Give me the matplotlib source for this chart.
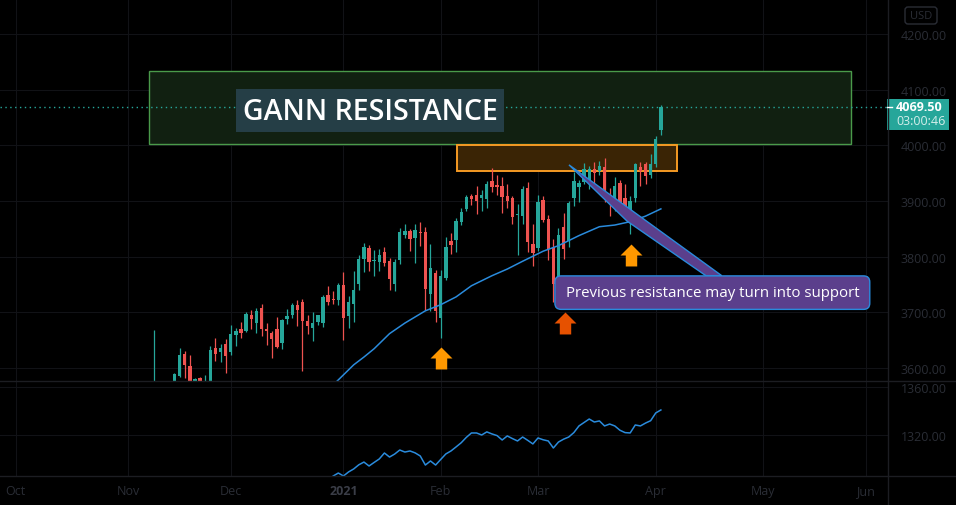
import numpy as np
import pandas as pd
import matplotlib
matplotlib.use('Agg')
import matplotlib.pyplot as plt
from matplotlib.patches import Rectangle, FancyBboxPatch, Polygon
from matplotlib.path import Path
from matplotlib.lines import Line2D
from matplotlib.transforms import IdentityTransform

# ES1! daily, first visible bar 2020-11-09 .. 2021-04-05
holidays = ['2020-11-26', '2020-12-25', '2021-01-01', '2021-01-18',
            '2021-02-15', '2021-04-02', '2021-05-31']
first_bar = '2020-11-09'

opens = [3530, 3548, 3540, 3562, 3545, 3586, 3626, 3604, 3560, 3582,
         3540, 3565, 3636, 3629, 3643, 3629, 3660, 3671, 3667, 3696,
         3681, 3708, 3671, 3663, 3671, 3645, 3688, 3696, 3714, 3719,
         3685, 3672, 3683, 3681, 3732, 3724, 3722, 3750, 3694, 3715,
         3751, 3796, 3816, 3792, 3791, 3809, 3793, 3751, 3794, 3839,
         3846, 3834, 3845, 3845, 3733, 3771, 3690, 3762, 3829, 3830,
         3863, 3886, 3909, 3911, 3905, 3904, 3936, 3929, 3927, 3909,
         3906, 3875, 3873, 3924, 3823, 3816, 3902, 3868, 3818, 3760,
         3854, 3828, 3906, 3925, 3934, 3933, 3957, 3954, 3961, 3911,
         3891, 3933, 3906, 3882, 3906, 3961, 3966, 3947, 3966, 4027]
highs = [3668, 3565, 3572, 3570, 3591, 3637, 3631, 3624, 3583, 3584,
         3588, 3640, 3654, 3643, 3652, 3678, 3672, 3683, 3701, 3705,
         3708, 3715, 3681, 3667, 3692, 3688, 3706, 3717, 3723, 3724,
         3696, 3701, 3696, 3732, 3748, 3739, 3753, 3773, 3730, 3775,
         3803, 3825, 3821, 3812, 3814, 3818, 3798, 3796, 3852, 3859,
         3850, 3859, 3863, 3854, 3823, 3776, 3776, 3836, 3843, 3870,
         3888, 3911, 3913, 3927, 3920, 3936, 3959, 3947, 3943, 3931,
         3909, 3895, 3927, 3934, 3859, 3911, 3909, 3875, 3832, 3852,
         3879, 3900, 3952, 3938, 3968, 3963, 3970, 3972, 3977, 3923,
         3943, 3938, 3931, 3909, 3968, 3970, 3970, 3984, 4016, 4073]
lows = [3510, 3520, 3525, 3505, 3540, 3584, 3583, 3550, 3540, 3545,
        3530, 3555, 3613, 3611, 3591, 3624, 3640, 3654, 3665, 3670,
        3663, 3658, 3642, 3619, 3636, 3634, 3679, 3690, 3676, 3595,
        3662, 3649, 3677, 3674, 3714, 3715, 3714, 3651, 3672, 3683,
        3741, 3773, 3775, 3766, 3775, 3784, 3740, 3739, 3787, 3834,
        3811, 3789, 3820, 3705, 3703, 3683, 3654, 3758, 3805, 3809,
        3857, 3882, 3893, 3877, 3882, 3888, 3916, 3911, 3879, 3888,
        3859, 3803, 3859, 3809, 3784, 3811, 3862, 3794, 3719, 3728,
        3796, 3818, 3891, 3898, 3930, 3921, 3929, 3947, 3899, 3873,
        3882, 3888, 3875, 3841, 3899, 3927, 3931, 3941, 3961, 4018]
closes = [3550, 3540, 3565, 3520, 3590, 3624, 3606, 3565, 3581, 3560,
          3570, 3633, 3626, 3636, 3622, 3662, 3667, 3663, 3698, 3688,
          3703, 3670, 3667, 3653, 3638, 3687, 3694, 3714, 3705, 3685,
          3676, 3681, 3695, 3728, 3719, 3722, 3750, 3690, 3719, 3741,
          3796, 3818, 3791, 3794, 3803, 3789, 3760, 3791, 3845, 3846,
          3832, 3848, 3843, 3742, 3780, 3703, 3766, 3818, 3821, 3864,
          3881, 3907, 3904, 3900, 3911, 3931, 3925, 3925, 3907, 3900,
          3872, 3877, 3922, 3827, 3807, 3898, 3866, 3814, 3751, 3839,
          3814, 3897, 3936, 3933, 3957, 3957, 3950, 3963, 3906, 3897,
          3927, 3895, 3879, 3900, 3966, 3954, 3945, 3966, 4011, 4069.5]

# moving average in the price pane (bar number, value)
ma_bars = [35, 37, 39, 41, 43, 46, 49, 53, 56, 59, 62, 66, 69, 72, 76, 79,
           83, 87, 90, 93, 96, 99]
ma_vals = [3570, 3588, 3606, 3620, 3635, 3662, 3681, 3703, 3714, 3728,
           3748, 3766, 3778, 3792, 3810, 3820, 3838, 3854, 3857, 3863,
           3873, 3886]

# lower pane line, one value per bar from bar 35
osc_first = 35
osc_vals = [1285.6, 1288.1, 1285.6, 1289.0, 1291.5, 1295.0, 1297.3, 1294.0,
            1297.0, 1299.9, 1304.9, 1301.5, 1304.0, 1307.4, 1305.7, 1306.6,
            1305.0, 1302.4, 1294.8, 1298.2, 1294.8, 1299.5, 1304.1, 1306.6,
            1310.0, 1313.5, 1318.0, 1321.7, 1321.7, 1320.0, 1322.6, 1320.9,
            1319.5, 1315.8, 1319.2, 1317.0, 1315.0, 1318.3, 1315.5, 1312.5,
            1317.5, 1316.0, 1315.0, 1309.1, 1314.1, 1316.5, 1318.3, 1322.0,
            1327.6, 1330.5, 1333.4, 1330.9, 1331.8, 1327.6, 1329.2, 1327.6,
            1324.0, 1322.0, 1321.7, 1328.4, 1327.6, 1330.0, 1332.0, 1338.5,
            1341.0]

price_ticks = [3600, 3700, 3800, 3900, 4000, 4100, 4200]
osc_ticks = [1320, 1360]
last_price = 4069.50
countdown = '03:00:46'
gann_text = 'GANN RESISTANCE'
note_text = 'Previous resistance may turn into support'

UP = '#26a69a'
DOWN = '#ef5350'
BG = '#000000'
GRID = '#111216'
SEP = '#1c1d22'
TXT = '#2a2d35'
BLUE = '#2a8bdc'
FONT = 'Open Sans'

plt.rcParams['font.family'] = [FONT, 'DejaVu Sans']

# bar positions from a trading calendar
cal = pd.bdate_range('2020-10-01', '2021-06-30', freq='C', holidays=holidays)
origin = cal.get_loc(pd.Timestamp(first_bar))
pos = pd.Series(np.arange(len(cal)) - origin, index=cal)
x = pos.values[origin:origin + len(closes)]
firsts = pos.groupby(cal.to_period('M')).first()
month_pos = firsts.values
month_lab = [p.strftime('%Y') if p.month == 1 else p.strftime('%b') for p in firsts.index]

W, H = 956, 506
fig = plt.figure(figsize=(W / 100, H / 100), dpi=100, facecolor=BG)
ax = fig.add_axes([0, 1 - 382 / H, 888 / W, 382 / H], facecolor=BG)
ax2 = fig.add_axes([0, 1 - 477 / H, 888 / W, 95 / H], facecolor=BG, sharex=ax)

ax.set_xlim(-30.08, 143.36)
ax.set_ylim(3577.0, 4262.8)
ax2.set_ylim(1285.6, 1365.3)

for a in (ax, ax2):
    for s in a.spines.values():
        s.set_visible(False)
    a.yaxis.tick_right()
    a.tick_params(axis='both', length=0, labelcolor=TXT, labelsize=9)
    a.tick_params(axis='y', pad=9)
    a.grid(True, color=GRID, lw=0.8)
    a.set_axisbelow(True)

ax.set_yticks(price_ticks, [f'{v:.2f}' for v in price_ticks])
ax2.set_yticks(osc_ticks, [f'{v:.2f}' for v in osc_ticks])
ax2.set_xticks(month_pos, month_lab)
ax2.tick_params(axis='x', pad=6)
ax.tick_params(labelbottom=False)
for t, lab in zip(ax2.get_xticklabels(), month_lab):
    if lab.isdigit():
        t.set_fontweight('bold')
        t.set_color('#3a3d47')

# candles
o, h, l, c = map(np.array, (opens, highs, lows, closes))
col = np.where(c >= o, UP, DOWN)
ax.vlines(x, l, h, colors=col, lw=0.9, zorder=3)
ax.bar(x, np.maximum(np.abs(c - o), 1.5), bottom=np.minimum(o, c), width=0.66,
       color=col, linewidth=0, zorder=4)

ax.plot(x[ma_bars], ma_vals, color=BLUE, lw=1.1, zorder=5)
ax2.plot(x[osc_first:], osc_vals, color=BLUE, lw=1.1, zorder=5)

# current price line
ax.axhline(last_price, color=UP, lw=1, ls=(0, (1, 2.5)), zorder=2.5)

# drawings
ax.add_patch(Rectangle((-0.9, 4002), 137.0, 132, fc='#112011', ec='#4a9a4a',
                       lw=1, zorder=1))
ax.add_patch(Rectangle((59.1, 3953.6), 43.1, 47.8, fc='#3a2405', ec='#f59a23',
                       lw=1.4, zorder=1))
ax.add_patch(Rectangle((16.0, 4024.1), 52.4, 77.2, fc='#253e46', lw=0, zorder=6))
ax.text(42.2, 4061.0, gann_text, color='white', fontsize=20.5,
        fontweight='semibold', ha='center', va='center', zorder=7)

tail = Polygon([(81.05, 3965), (110.9, 3766), (107.8, 3766), (92.4, 3864)],
               closed=True, fc='#5b3f8c', ec=BLUE, lw=1, zorder=6)
ax.add_patch(tail)
ax.add_patch(FancyBboxPatch((78.3, 3705.6), 61.5, 60.1,
                            boxstyle='round,pad=0,rounding_size=1.2',
                            mutation_aspect=9.19, fc='#5b3f8c', ec=BLUE,
                            lw=1, zorder=7))
ax.text(109.05, 3735.0, note_text, color='white', fontsize=10.8, ha='center',
        va='center', zorder=8)

# up arrows
arrow = Path([(0, 1), (1, 0), (0.52, 0), (0.52, -1), (-0.52, -1), (-0.52, 0),
              (-1, 0), (0, 1)], [1, 2, 2, 2, 2, 2, 2, 79])
ax.plot([56.15, 93.07], [3618.5, 3803.4], ls='none', marker=arrow,
        markersize=15.8, color='#ff9800', markeredgewidth=0, zorder=8)
ax.plot([80.18], [3681.3], ls='none', marker=arrow, markersize=15.8,
        color='#e65100', markeredgewidth=0, zorder=8)

# separators
idt = IdentityTransform()
fig.add_artist(Line2D([887.5, 887.5], [0, H], transform=idt, color=SEP, lw=1))
for yy in (382, 477):
    fig.add_artist(Line2D([0, W], [H - yy, H - yy], transform=idt, color=SEP, lw=1))

# last price label on the scale
py = ax.transData.transform((0, last_price))[1]
fig.add_artist(Rectangle((887, py - 23), 62, 31, transform=idt, fc=UP, lw=0))
fig.add_artist(Line2D([887, 892], [py, py], transform=idt, color='white', lw=1))
fig.text(896, py, f'{last_price:.2f}', transform=idt, color='white',
         fontsize=9, fontweight='bold', va='center', ha='left')
fig.text(896, py - 14, countdown, transform=idt, color='#d3eeea',
         fontsize=9, va='center', ha='left')

# currency badge
fig.add_artist(FancyBboxPatch((905, H - 25), 32, 17, transform=idt,
                              boxstyle='round,pad=0,rounding_size=3',
                              fc='none', ec=TXT, lw=1))
fig.text(921, H - 16.5, 'USD', transform=idt, color=TXT, fontsize=8,
         ha='center', va='center')

fig.savefig('out.png', dpi=100, facecolor=BG)
